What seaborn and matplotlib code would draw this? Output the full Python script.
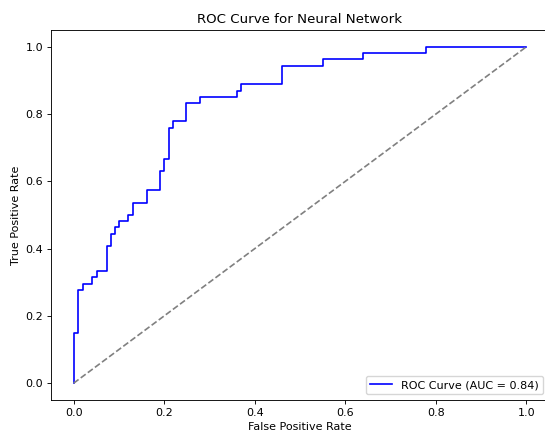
import numpy as np
import pandas as pd
import matplotlib
matplotlib.use("Agg")
import matplotlib.pyplot as plt
import seaborn as sns

# FPR at which each step rises, and the TPR level reached there
step_fpr = [0.0, 0.01, 0.02, 0.04, 0.052, 0.073, 0.082, 0.092, 0.101, 0.121,
            0.131, 0.161, 0.19, 0.2, 0.21, 0.22, 0.248, 0.28, 0.36, 0.369,
            0.46, 0.55, 0.639, 0.779]
step_tpr = [0.148, 0.278, 0.296, 0.315, 0.333, 0.407, 0.444, 0.463, 0.481, 0.5,
            0.537, 0.574, 0.63, 0.667, 0.759, 0.778, 0.833, 0.852, 0.870, 0.889,
            0.944, 0.963, 0.981, 1.0]
auc_value = 0.84
diag = [0.0, 1.0]

# build ROC corner points
fpr = [0.0]
tpr = [0.0]
for fx, ty in zip(step_fpr, step_tpr):
    fpr.append(fx); tpr.append(tpr[-1])
    fpr.append(fx); tpr.append(ty)
fpr.append(1.0); tpr.append(1.0)
df = pd.DataFrame({"fpr": fpr, "tpr": tpr})

s = 0.8
plt.rcParams.update({
    "font.size": 10 * s,
    "axes.titlesize": 12 * s,
    "axes.labelsize": 10 * s,
    "xtick.labelsize": 10 * s,
    "ytick.labelsize": 10 * s,
    "legend.fontsize": 10 * s,
    "axes.linewidth": 0.8 * s,
    "xtick.major.width": 0.8 * s,
    "ytick.major.width": 0.8 * s,
    "xtick.major.size": 3.5 * s,
    "ytick.major.size": 3.5 * s,
    "xtick.major.pad": 3.5 * s,
    "ytick.major.pad": 3.5 * s,
    "axes.titlepad": 6 * s,
    "axes.labelpad": 4 * s,
})

fig = plt.figure(figsize=(5.45, 4.37), dpi=100)
ax = fig.add_axes([51 / 545, 37 / 437, 498 / 545, 370 / 437])
sns.lineplot(data=df, x="fpr", y="tpr", sort=False, estimator=None, color="blue",
             label=f"ROC Curve (AUC = {auc_value:.2f})", ax=ax, linewidth=1.5 * s)
ax.plot(diag, diag, linestyle="--", color="gray", linewidth=1.5 * s)
ax.set_xlim(-0.05, 1.05)
ax.set_ylim(-0.05, 1.05)
ax.set_xlabel("False Positive Rate")
ax.set_ylabel("True Positive Rate")
ax.set_title("ROC Curve for Neural Network")
ax.legend(loc="lower right")
fig.savefig("out.png", dpi=100)
